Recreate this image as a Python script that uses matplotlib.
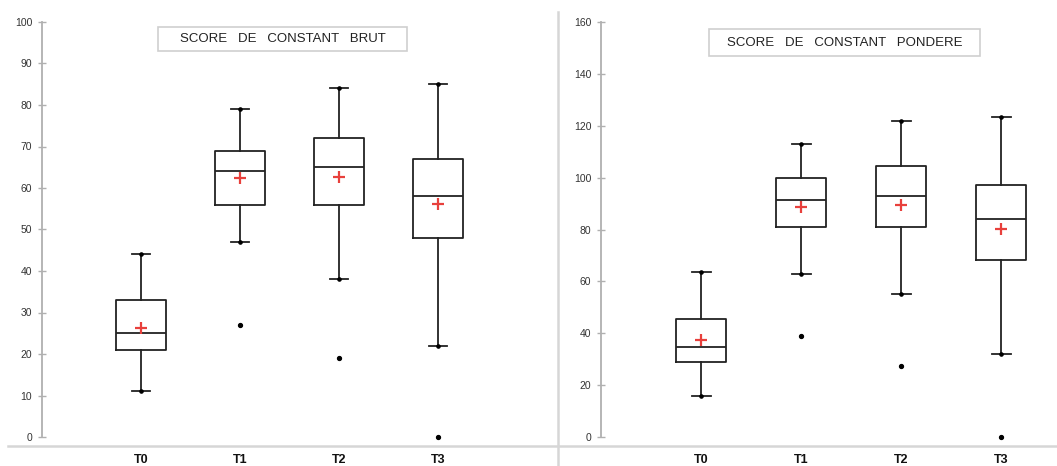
import numpy as np
import matplotlib.pyplot as plt
from matplotlib.lines import Line2D
from matplotlib.patches import Rectangle

plt.rcParams['font.family'] = ['Liberation Sans', 'DejaVu Sans']

groups = ['T0', 'T1', 'T2', 'T3']

# score brut
brut_low = [11, 47, 38, 22]
brut_q1 = [21, 56, 56, 48]
brut_med = [25, 64, 65, 58]
brut_q3 = [33, 69, 72, 67]
brut_high = [44, 79, 84, 85]
brut_mean = [26.3, 62.4, 62.6, 56.1]
brut_out = [[], [27], [19], [0]]

# score pondere
pond_low = [15.7, 63, 55, 31.9]
pond_q1 = [29, 81.1, 81.1, 68.1]
pond_med = [34.7, 91.5, 92.8, 84.1]
pond_q3 = [45.6, 100, 104.4, 97.2]
pond_high = [63.7, 113.1, 121.8, 123.3]
pond_mean = [37.3, 88.7, 89.4, 80.2]
pond_out = [[], [38.9], [27.4], [0]]

W, H = 1057, 466
fig = plt.figure(figsize=(W / 100, H / 100), dpi=100)


def boxpanel(left_px, unit_px, ymax, yticks, low, q1, med, q3, high, mean, out, title, tbox):
    x0 = left_px / W
    ax = fig.add_axes([x0, (H - 437) / H, unit_px * 4.6 / W, (437 - 22) / H])
    stats = []
    for i in range(4):
        stats.append(dict(whislo=low[i], q1=q1[i], med=med[i], q3=q3[i],
                          whishi=high[i], mean=mean[i], fliers=out[i], label=groups[i]))
    arts = ax.bxp(stats, positions=[1, 2, 3, 4], widths=0.5, showmeans=True,
                  boxprops=dict(color='#222222', lw=1.3),
                  medianprops=dict(color='#222222', lw=1.3),
                  whiskerprops=dict(color='#222222', lw=1.3),
                  capprops=dict(color='#222222', lw=1.3),
                  capwidths=0.19,
                  meanprops=dict(marker='+', markeredgecolor='#e8403c', markersize=8, mew=1.6),
                  flierprops=dict(marker='o', markerfacecolor='k', markeredgecolor='k', markersize=2.8))
    for k in arts:
        for a in arts[k]:
            a.set_clip_on(False)
    # dots at whisker ends
    ax.plot([1, 2, 3, 4], low, 'o', color='k', ms=2.3, clip_on=False)
    ax.plot([1, 2, 3, 4], high, 'o', color='k', ms=2.3, clip_on=False)

    ax.set_xlim(0, 4.6)
    ax.set_ylim(0, ymax)
    ax.set_yticks(yticks)
    for s in ['top', 'right', 'bottom']:
        ax.spines[s].set_visible(False)
    ax.spines['left'].set_color('#b0b0b0')
    ax.spines['left'].set_linewidth(1.3)
    ax.tick_params(axis='y', direction='inout', length=6, width=1, color='#b0b0b0',
                   labelsize=7.5, labelcolor='#333333', pad=4)
    ax.tick_params(axis='x', length=0, pad=12)
    ax.set_xticklabels(groups, fontsize=9, fontweight='bold', color='#111111')

    bx0, by0, bx1, by1 = tbox
    fig.patches.append(Rectangle((bx0 / W, (H - by1) / H), (bx1 - bx0) / W, (by1 - by0) / H,
                                 transform=fig.transFigure, fill=False,
                                 edgecolor='#cfcfcf', lw=1.2))
    fig.text((bx0 + bx1) / 2 / W, (H - (by0 + by1) / 2) / H, title, ha='center', va='center',
             fontsize=9.5, color='#222222')
    return ax


boxpanel(42, 99, 100, np.arange(0, 101, 10), brut_low, brut_q1, brut_med, brut_q3,
         brut_high, brut_mean, brut_out, 'SCORE   DE   CONSTANT   BRUT', (158, 27, 407, 51))
boxpanel(601, 100, 160, np.arange(0, 161, 20), pond_low, pond_q1, pond_med, pond_q3,
         pond_high, pond_mean, pond_out, 'SCORE   DE   CONSTANT   PONDERE', (709, 29, 980, 56))

# page borders around the two panels
fig.lines.append(Line2D([8 / W, 1], [(H - 446) / H] * 2, transform=fig.transFigure,
                        color='#d6d6d6', lw=1.8))
fig.lines.append(Line2D([558 / W] * 2, [0, (H - 12) / H], transform=fig.transFigure,
                        color='#d6d6d6', lw=1.8))

fig.savefig('out.png', dpi=100)
